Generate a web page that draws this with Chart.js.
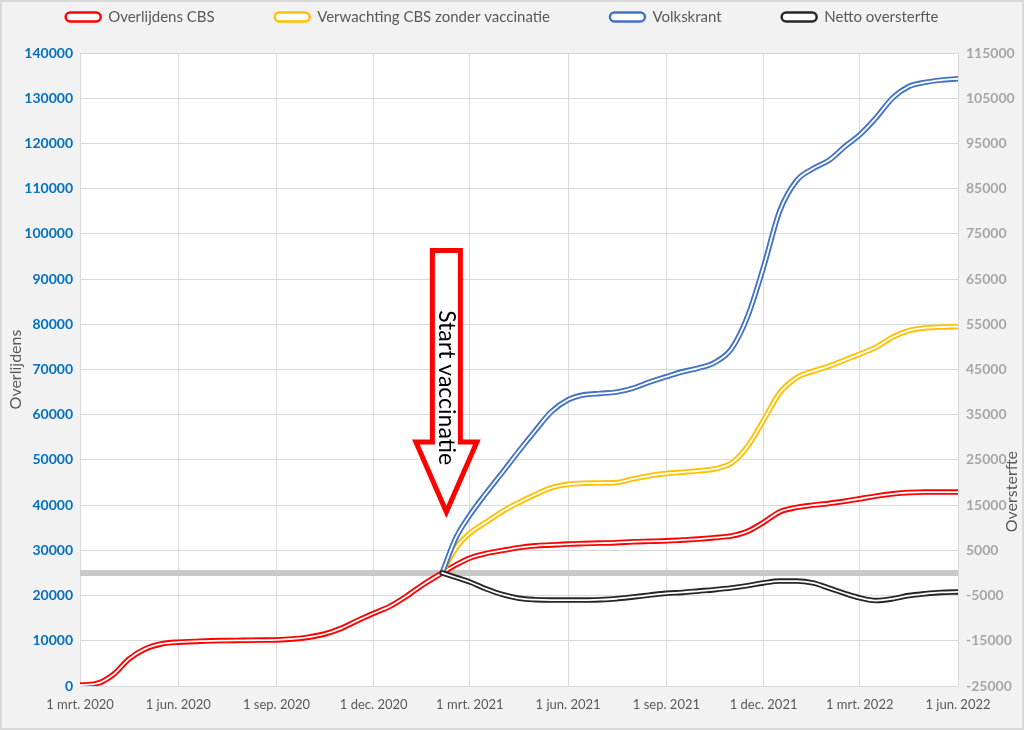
<!DOCTYPE html>
<html>
<head>
<meta charset="utf-8">
<script src="https://cdn.jsdelivr.net/npm/chart.js@4.4.1/dist/chart.umd.min.js"></script>
<style>
html,body{margin:0;padding:0;background:#f2f2f2;}
#wrap{width:1024px;height:730px;position:relative;}
canvas{display:block;}
</style>
</head>
<body>
<div id="wrap"><canvas id="c" width="1024" height="730"></canvas></div>
<script>
// ---- data ----
const dates = [
  '2020-03-01','2020-03-16','2020-04-01','2020-04-16','2020-05-01','2020-05-16','2020-06-01','2020-06-16',
  '2020-07-01','2020-07-16','2020-08-01','2020-08-16','2020-09-01','2020-09-16','2020-10-01','2020-10-16',
  '2020-11-01','2020-11-16','2020-12-01','2020-12-16',
  '2021-01-01','2021-01-16','2021-02-03','2021-02-16','2021-03-01','2021-03-16','2021-04-01','2021-04-16',
  '2021-05-01','2021-05-16','2021-06-01','2021-06-16','2021-07-01','2021-07-16','2021-08-01','2021-08-16',
  '2021-09-01','2021-09-16','2021-10-01','2021-10-16','2021-11-01','2021-11-16','2021-12-01','2021-12-16',
  '2022-01-01','2022-01-16','2022-02-01','2022-02-16','2022-03-01','2022-03-16','2022-04-01','2022-04-16',
  '2022-05-01','2022-05-16','2022-06-01'
];
const overlijdensCBS = [
  200, 500, 2500, 6000, 8200, 9300, 9700, 9850, 10000, 10050, 10100, 10150, 10200, 10400, 10800, 11500,
  12800, 14500, 16100, 17600,
  19900, 22400, 25000, 26800, 28300, 29300, 30000, 30600, 31000, 31200, 31400, 31500, 31600, 31700, 31900, 32000,
  32100, 32300, 32500, 32800, 33200, 34200, 36200, 38500,
  39500, 40000, 40400, 40900, 41400, 42000, 42500, 42800, 42900, 42900, 42900
];
const verwachtingCBS = [
  null, null, null, null, null, null, null, null, null, null, null, null, null, null, null, null,
  null, null, null, null,
  null, null, 25000, 30500, 33800, 36200, 38700, 40600, 42300, 43800, 44600, 44850, 44900, 45000, 45800, 46500,
  47000, 47300, 47600, 48000, 49300, 53000, 58800, 64800,
  68200, 69600, 70800, 72200, 73400, 74900, 77200, 78600, 79200, 79400, 79500
];
const volkskrant = [
  null, null, null, null, null, null, null, null, null, null, null, null, null, null, null, null,
  null, null, null, null,
  null, null, 25000, 32800, 37800, 42600, 47400, 52000, 56400, 60600, 63300, 64400, 64700, 65000, 65900, 67200,
  68400, 69500, 70300, 71500, 74600, 81700, 92700, 105000,
  111800, 114400, 116400, 119500, 121900, 125600, 130100, 132600, 133500, 134000, 134300
];
const nettoOversterfte = [
  null, null, null, null, null, null, null, null, null, null, null, null, null, null, null, null,
  null, null, null, null,
  null, null, 0, -1000, -2000, -3500, -4800, -5600, -5900, -6000, -6000, -6000, -5900, -5700, -5300, -4900,
  -4500, -4300, -4000, -3700, -3300, -2800, -2200, -1800,
  -1800, -2200, -3400, -4600, -5500, -6100, -5700, -5000, -4600, -4300, -4200
];
const seriesNames = ['Overlijdens CBS', 'Verwachting CBS zonder vaccinatie', 'Volkskrant', 'Netto oversterfte'];
const seriesColors = ['#ff0000', '#ffc000', '#4472c4', '#262626'];
const seriesAxes = ['y', 'y', 'y', 'y1'];
const xTickDates = ['2020-03-01','2020-06-01','2020-09-01','2020-12-01','2021-03-01','2021-06-01','2021-09-01','2021-12-01','2022-03-01','2022-06-01'];
const xTickLabels = ['1 mrt. 2020','1 jun. 2020','1 sep. 2020','1 dec. 2020','1 mrt. 2021','1 jun. 2021','1 sep. 2021','1 dec. 2021','1 mrt. 2022','1 jun. 2022'];
const leftTicks = [0,10000,20000,30000,40000,50000,60000,70000,80000,90000,100000,110000,120000,130000,140000];
const rightTicks = [-25000,-15000,-5000,5000,15000,25000,35000,45000,55000,65000,75000,85000,95000,105000,115000];
const leftTitle = 'Overlijdens';
const rightTitle = 'Oversterfte';
const ARROW = { date: '2021-02-07', topValue: 96300, tipValue: 38500, labelValue: 66000, label: 'Start vaccinatie' };

// ---- layout constants ----
const FONT = 'Lato';
const LEGEND_GAP = 60;
const LEGEND_FONT = 15;
const LEGEND_TEXT_Y = 17;
const PLOT_TOP = 53;
const TOP_PAD = LEGEND_TEXT_Y - LEGEND_GAP - LEGEND_FONT / 2;
const LEGEND_HEIGHT = PLOT_TOP - TOP_PAD;
const LEFT_SHIFT = 20;

const DAY0 = Date.parse('2020-03-01');
const dayOf = d => Math.round((Date.parse(d) - DAY0) / 86400000);
const toPoints = vals => dates.map((d, i) => ({ x: dayOf(d), y: vals[i] })).filter(p => p.y !== null);

const allSeries = [overlijdensCBS, verwachtingCBS, volkskrant, nettoOversterfte];
const datasets = [];
allSeries.forEach((vals, i) => {
  const common = { data: toPoints(vals), yAxisID: seriesAxes[i], pointRadius: 0, cubicInterpolationMode: 'monotone', fill: false, borderCapStyle: 'round', borderJoinStyle: 'round' };
  datasets.push(Object.assign({ label: seriesNames[i], borderColor: seriesColors[i], backgroundColor: '#ffffff', borderWidth: 5.5, order: 10 - 2 * i }, common));
  datasets.push(Object.assign({ label: seriesNames[i] + ' ', borderColor: '#ffffff', backgroundColor: '#ffffff', borderWidth: 1.8, order: 9 - 2 * i }, common));
});
datasets.push({
  label: 'nul', data: [{ x: dayOf(dates[0]), y: 0 }, { x: dayOf(dates[dates.length - 1]), y: 0 }],
  yAxisID: 'y1', borderColor: '#c9c9c9', borderWidth: 6, pointRadius: 0, tension: 0, order: 30, clip: 0
});

const bgPlugin = {
  id: 'bg',
  beforeDraw(chart) {
    const { ctx, chartArea: a, width, height } = chart;
    ctx.save();
    ctx.fillStyle = '#f2f2f2';
    ctx.fillRect(0, 0, width, height);
    ctx.fillStyle = '#ffffff';
    ctx.fillRect(a.left, a.top, a.right - a.left, a.bottom - a.top);
    ctx.strokeStyle = '#d9d9d9';
    ctx.lineWidth = 2;
    ctx.strokeRect(1, 1, width - 2, height - 2);
    ctx.restore();
  }
};
const legendFit = {
  id: 'legendFit',
  beforeInit(chart) {
    const orig = chart.legend.fit;
    chart.legend.fit = function () { orig.call(this); this.height = LEGEND_HEIGHT; };
  }
};
const annotations = {
  id: 'annotations',
  afterDatasetsDraw(chart) {
    const { ctx, scales: { x, y } } = chart;
    const cx = x.getPixelForValue(dayOf(ARROW.date));
    const yTop = y.getPixelForValue(ARROW.topValue);
    const yTip = y.getPixelForValue(ARROW.tipValue);
    const yBase = yTip - 70;
    const sh = 14, hh = 30.5;
    ctx.save();
    ctx.beginPath();
    ctx.moveTo(cx - sh, yTop);
    ctx.lineTo(cx + sh, yTop);
    ctx.lineTo(cx + sh, yBase);
    ctx.lineTo(cx + hh, yBase);
    ctx.lineTo(cx, yTip);
    ctx.lineTo(cx - hh, yBase);
    ctx.lineTo(cx - sh, yBase);
    ctx.closePath();
    ctx.fillStyle = '#ffffff';
    ctx.fill();
    ctx.lineWidth = 5;
    ctx.lineJoin = 'miter';
    ctx.strokeStyle = '#ff0000';
    ctx.stroke();
    ctx.translate(cx, y.getPixelForValue(ARROW.labelValue));
    ctx.rotate(Math.PI / 2);
    ctx.font = '23px ' + FONT;
    ctx.fillStyle = '#000000';
    ctx.textAlign = 'center';
    ctx.textBaseline = 'middle';
    ctx.fillText(ARROW.label, 0, 0);
    ctx.restore();
  },
  afterDraw(chart) {
    const { ctx, scales: { y1 } } = chart;
    ctx.save();
    ctx.translate(chart.width - 12, y1.getPixelForValue(18000));
    ctx.rotate(-Math.PI / 2);
    ctx.font = '16px ' + FONT;
    ctx.fillStyle = '#595959';
    ctx.textAlign = 'center';
    ctx.textBaseline = 'middle';
    ctx.fillText(rightTitle, 0, 0);
    ctx.restore();
  }
};

new Chart(document.getElementById('c'), {
  type: 'line',
  data: { datasets },
  options: {
    responsive: false,
    animation: false,
    devicePixelRatio: 1,
    events: [],
    layout: { padding: { top: TOP_PAD, left: -LEFT_SHIFT, right: 0, bottom: 0 } },
    plugins: {
      tooltip: { enabled: false },
      legend: {
        position: 'top',
        labels: {
          boxWidth: 35, boxHeight: 9, padding: LEGEND_GAP, color: '#595959',
          font: { family: FONT, size: LEGEND_FONT },
          generateLabels: () => seriesNames.map((n, i) => ({
            text: n, fillStyle: '#ffffff', strokeStyle: seriesColors[i], lineWidth: 2.5,
            hidden: false, datasetIndex: 2 * i, borderRadius: 4.5, fontColor: '#595959'
          }))
        }
      }
    },
    scales: {
      x: {
        type: 'linear', min: dayOf(xTickDates[0]), max: dayOf(xTickDates[xTickDates.length - 1]),
        afterBuildTicks: s => { s.ticks = xTickDates.map(d => ({ value: dayOf(d) })); },
        afterFit: s => { s.height = 44; },
        grid: { color: '#d9d9d9', drawTicks: false },
        border: { display: false },
        ticks: {
          autoSkip: false, maxRotation: 0, padding: 11, color: '#595959',
          font: { family: FONT, size: 13 },
          callback: (v, i) => xTickLabels[i]
        }
      },
      y: {
        position: 'left', min: 0, max: 140000,
        afterBuildTicks: s => { s.ticks = leftTicks.map(v => ({ value: v })); },
        afterFit: s => { s.width = 80 + LEFT_SHIFT; },
        grid: { color: '#d9d9d9', drawTicks: false },
        border: { display: false },
        title: { display: true, text: leftTitle, color: '#595959', font: { family: FONT, size: 16 }, padding: { top: 6 + LEFT_SHIFT, bottom: 0 } },
        ticks: { padding: 7, color: '#0070c0', font: { family: FONT, size: 14, weight: 'bold' }, callback: v => String(v) }
      },
      y1: {
        position: 'right', min: -25000, max: 115000,
        afterBuildTicks: s => { s.ticks = rightTicks.map(v => ({ value: v })); },
        afterFit: s => { s.width = 66; },
        grid: { drawOnChartArea: false, drawTicks: false },
        border: { display: false },
        ticks: { padding: 8, color: '#a6a6a6', font: { family: FONT, size: 14, weight: 'bold' }, callback: v => String(v) }
      }
    }
  },
  plugins: [bgPlugin, legendFit, annotations]
});
</script>
</body>
</html>
